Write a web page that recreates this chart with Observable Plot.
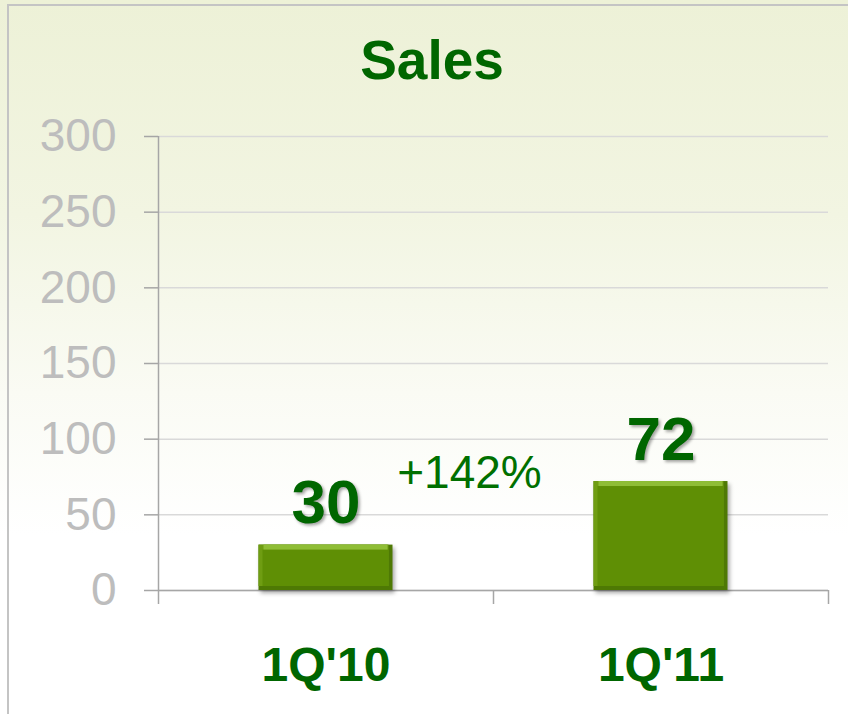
<!DOCTYPE html>
<html>
<head>
<meta charset="utf-8">
<script src="https://cdn.jsdelivr.net/npm/d3@7"></script>
<script src="https://cdn.jsdelivr.net/npm/@observablehq/plot@0.6"></script>
<style>
  html, body { margin: 0; padding: 0; background: #fff; }
  #wrap {
    position: relative; width: 848px; height: 714px; overflow: hidden;
    background: linear-gradient(to bottom, #edf1d7 0%, #f2f5e2 30%, #fafbf4 55%, #ffffff 75%, #ffffff 100%);
    font-family: "Liberation Sans", Arial, sans-serif;
  }
  #frame {
    position: absolute; left: 7px; top: 4px; width: 900px; height: 800px;
    border-left: 2px solid #c4c4c4; border-top: 2px solid #c4c4c4;
  }
  #title {
    position: absolute; left: 16px; width: 832px; top: 33px; text-align: center;
    font-size: 55px; line-height: 1; font-weight: bold; color: #006600;
  }
  #chart { position: absolute; left: 0; top: 100px; }
  .bars { filter: drop-shadow(2px 3px 2px rgba(0,0,0,0.35)); }
  .vals { filter: drop-shadow(2px 2px 1.5px rgba(0,0,0,0.35)); }
</style>
</head>
<body>
<div id="wrap">
  <div id="frame"></div>
  <div id="title">Sales</div>
  <div id="chart"></div>
</div>
<script>
const categories = ["1Q'10", "1Q'11"];
const sales = [30, 72];
const yTicks = [0, 50, 100, 150, 200, 250, 300];
const growthLabel = ["+142%"];

const data = categories.map((c, i) => ({cat: c, i, value: sales[i]}));
const boundaries = d3.range(categories.length + 1);

const axisGray = "#a6a6a6";
const green = "#006600";

const plot = Plot.plot({
  width: 848,
  height: 614,
  marginTop: 36,
  marginBottom: 124,
  marginLeft: 158,
  marginRight: 20,
  style: {background: "transparent", fontFamily: "'Liberation Sans', Arial, sans-serif", overflow: "visible"},
  x: {domain: [0, categories.length], axis: null},
  y: {domain: [0, 300], axis: null},
  marks: [
    Plot.gridY(yTicks, {stroke: "#d9d9d9", strokeOpacity: 1, strokeWidth: 1.5}),
    Plot.axisY(yTicks, {label: null, tickSize: 14, tickPadding: 28, fontSize: 46, fill: "#bdbdbd", stroke: axisGray, strokeWidth: 1.5, tickFormat: d => String(d)}),
    Plot.ruleX([0], {y1: 0, y2: 300, stroke: axisGray, strokeWidth: 1.5}),
    Plot.ruleY([0], {stroke: axisGray, strokeWidth: 1.5}),
    Plot.axisX(boundaries, {label: null, tickSize: 14, tickFormat: () => "", stroke: axisGray, strokeWidth: 1.5}),
    // bars with bevel look
    Plot.rectY(data, {x1: d => d.i + 0.3, x2: d => d.i + 0.7, y: "value", fill: "#4e7904", className: "bars"}),
    Plot.rectY(data, {x1: d => d.i + 0.3, x2: d => d.i + 0.7, y: "value", fill: "#6f9d12", insetBottom: 4, insetRight: 4}),
    Plot.rectY(data, {x1: d => d.i + 0.3, x2: d => d.i + 0.7, y: "value", fill: "#8fbd36", insetBottom: 4, insetRight: 5, insetLeft: 5}),
    Plot.rectY(data, {x1: d => d.i + 0.3, x2: d => d.i + 0.7, y: "value", fill: "#5f8f05", insetTop: 5, insetBottom: 4, insetLeft: 4, insetRight: 4}),
    // value labels
    Plot.text(data, {x: d => d.i + 0.5, y: "value", text: d => String(d.value), dy: -22, lineAnchor: "bottom",
      fontSize: 62, fontWeight: "bold", fill: green, className: "vals"}),
    // growth annotation
    Plot.text(growthLabel, {x: () => 1, y: () => sales[1], text: d => d, dx: -24, dy: 6, lineAnchor: "bottom",
      fontSize: 46, fill: "#007000"}),
    // category labels
    Plot.text(data, {x: d => d.i + 0.5, y: () => 0, text: "cat", dy: 90, lineAnchor: "bottom",
      fontSize: 48, fontWeight: "bold", fill: green})
  ]
});
document.getElementById("chart").appendChild(plot);
</script>
</body>
</html>
